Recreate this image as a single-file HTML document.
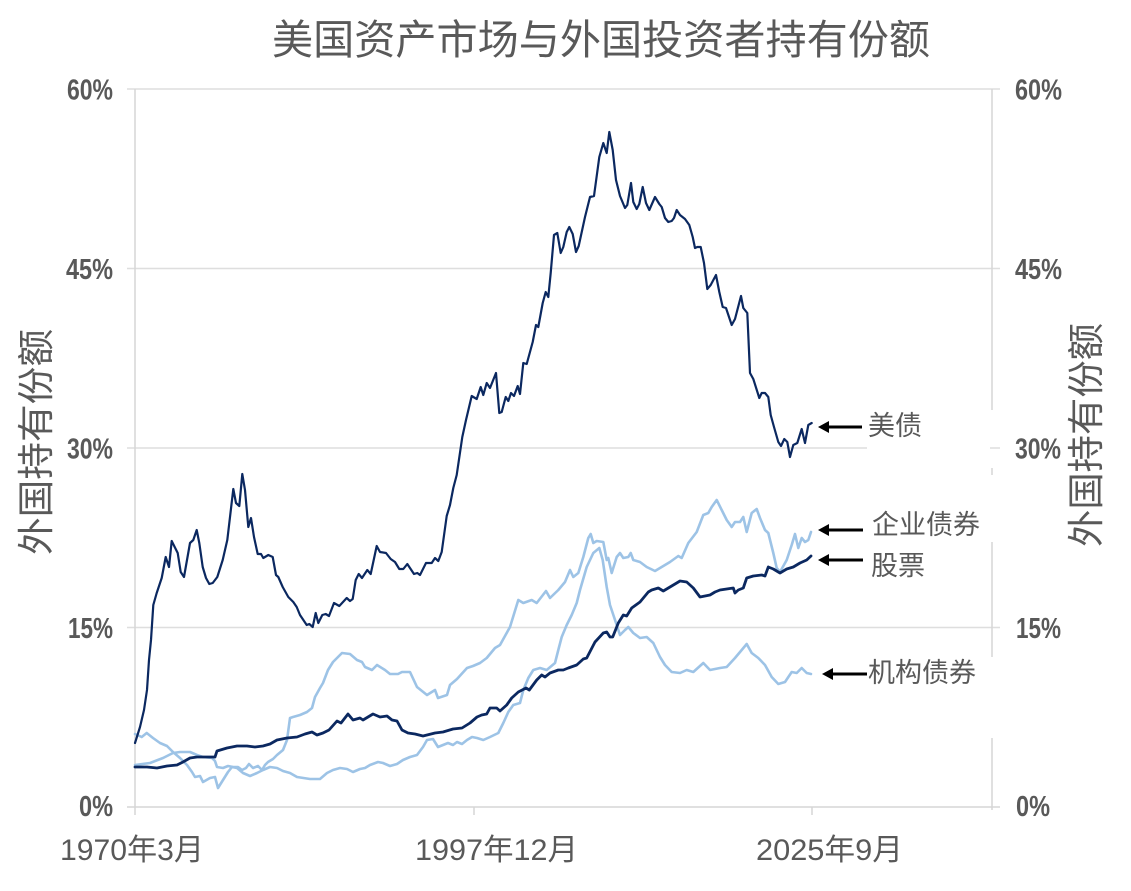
<!DOCTYPE html>
<html>
<head>
<meta charset="utf-8">
<style>
html,body{margin:0;padding:0;background:#fff;}
svg{display:block;}
text{font-family:"Liberation Sans","Noto Sans CJK SC",sans-serif;fill:#595959;}
</style>
</head>
<body>
<svg width="1131" height="891" viewBox="0 0 1131 891" xmlns="http://www.w3.org/2000/svg">
<rect x="0" y="0" width="1131" height="891" fill="#fff"/>
<!-- Title -->
<text x="601" y="54" font-size="41" text-anchor="middle" textLength="658" lengthAdjust="spacingAndGlyphs">美国资产市场与外国投资者持有份额</text>

<!-- gridlines -->
<g stroke="#dedede" stroke-width="1.5" fill="none">
<line x1="127" y1="89" x2="1000" y2="89"/>
<line x1="127" y1="268.5" x2="1000" y2="268.5"/>
<line x1="127" y1="448" x2="867" y2="448"/>
<line x1="990" y1="448" x2="1000" y2="448"/>
<line x1="127" y1="627.5" x2="1000" y2="627.5"/>
</g>
<g stroke="#d6d6d6" stroke-width="1.5" fill="none">
<line x1="127" y1="807" x2="1000" y2="807"/>
<line x1="135" y1="89" x2="135" y2="815"/>
<line x1="474" y1="807" x2="474" y2="815"/>
<line x1="812" y1="807" x2="812" y2="815"/>
<line x1="992" y1="89" x2="992" y2="410"/>
<line x1="992" y1="468" x2="992" y2="475"/>
<line x1="992" y1="542" x2="992" y2="657"/>
<line x1="992" y1="738" x2="992" y2="810"/>
</g>

<!-- left tick labels -->
<g font-size="29" font-weight="bold" text-anchor="end">
<text x="113" y="99.5" textLength="46" lengthAdjust="spacingAndGlyphs">60%</text>
<text x="113" y="279" textLength="47" lengthAdjust="spacingAndGlyphs">45%</text>
<text x="113" y="458.5" textLength="46" lengthAdjust="spacingAndGlyphs">30%</text>
<text x="113" y="638" textLength="45" lengthAdjust="spacingAndGlyphs">15%</text>
<text x="113" y="816" textLength="34" lengthAdjust="spacingAndGlyphs">0%</text>
</g>
<!-- right tick labels -->
<g font-size="29" font-weight="bold" text-anchor="start">
<text x="1015" y="99.5" textLength="47" lengthAdjust="spacingAndGlyphs">60%</text>
<text x="1015" y="279" textLength="47" lengthAdjust="spacingAndGlyphs">45%</text>
<text x="1015" y="458.5" textLength="46" lengthAdjust="spacingAndGlyphs">30%</text>
<text x="1016" y="638" textLength="45" lengthAdjust="spacingAndGlyphs">15%</text>
<text x="1016" y="816" textLength="34" lengthAdjust="spacingAndGlyphs">0%</text>
</g>

<!-- x labels -->
<g font-size="30">
<text x="60" y="860" textLength="144" lengthAdjust="spacingAndGlyphs">1970年3月</text>
<text x="415" y="860" textLength="163" lengthAdjust="spacingAndGlyphs">1997年12月</text>
<text x="756" y="860" textLength="147" lengthAdjust="spacingAndGlyphs">2025年9月</text>
</g>

<!-- axis titles -->
<text transform="translate(49,442) rotate(-90)" font-size="37" text-anchor="middle" textLength="226" lengthAdjust="spacingAndGlyphs">外国持有份额</text>
<text transform="translate(1099,435) rotate(-90)" font-size="37" text-anchor="middle" textLength="224" lengthAdjust="spacingAndGlyphs">外国持有份额</text>

<!-- light series -->
<g fill="none" stroke="#9dc3e6" stroke-width="2.6" stroke-linejoin="round" stroke-linecap="round">
<!-- corporate -->
<polyline points="135,765 150,763 163,758 173,753 180,752 190,752 197,755 203,757 212,758 215,761 217,767 223,768 228,766 233,767 238,767 242,770 246,768 249,764 253,768 258,766 262,770 265,765 268,762 273,759 277,755 283,750 287,740 290,718 293,717 300,715 307,712 312,708 315,697 320,688 323,683 328,670 333,662 342,653 350,654 357,660 362,662 365,667 372,670 377,665 385,670 390,674 398,674 402,672 410,672 417,687 427,695 435,690 438,698 447,695 450,685 457,679 467,668 473,666 480,663 486.7,658 495,648 500,645 510,627 518.3,600 523.3,603 531.7,600 536.7,603 546,591 550,598 558.3,590 565,582 570,570 573.3,577 578.3,573 583.3,557 588.3,538 590.7,534 593.3,543 596.7,541 603.3,542 606.7,560 608.3,558 611.7,573 616.7,557 620,553 623.3,558 628.3,557 630.7,553 633.3,560 640,562 646.7,567 655,571 660,568 670,562 678.3,556 681.7,558 688.3,543 696.7,532 703.3,515 708.3,513 711.7,507 716.7,500 721.7,510 726.7,520 731.7,527 735,522 740,522 743.3,517 746.7,532 751.7,513 756.7,509 760,518 765,530 768.3,533 773.3,553 776.7,568 780,572 786.7,560 791.7,545 795,534 798.3,548 801.7,538 805,542 808.3,540 811,532"/>
<!-- agency -->
<polyline points="135,734 141.7,737 146.7,733 153,738 160,743 167,746 173,752 180,758 187,765 192,772 195,777 200,776 203,782 210,778 215,777 218,788 223,780 228,772 232,767 237,768 243,773 250,776 257,773 263,770 270,767 277,768 283,771 290,773 297,777 310,779 320,779 327,773 333,770 340,768 347,769 353,772 360,769 365,768 370,765 378,762 383,763 390,766 397,764 403,760 410,757 417,755 423,747 427,740 433,739 438,747 443,745 448,743 453,745 457,742 462,744 467,740 472,737 477,738 483.3,740 490,737 498.3,733 503.3,723 508.3,712 513.3,705 520,703 523.3,690 528.3,678 533.3,670 540,668 546.7,670 555,663 558.3,650 561.7,637 566.7,625 571.7,615 576.7,603 580,590 586.7,567 593.3,553 599.3,548 602.7,560 606.7,587 610,605 616.7,625 620,635 625,630 628.3,627 633.3,633 640,638 646.7,637 653.3,643 660,657 665,665 671.7,672 680,673 686.7,670 693.3,672 703.3,663 710,670 720,668 726.7,667 735,658 741.7,650 746.7,644 751.7,653 758.3,658 765,665 771.7,677 778.3,684 785,682 791.7,672 796.7,673 801.7,668 806.7,673 811,674"/>
</g>

<!-- dark series -->
<g fill="none" stroke="#0b2860" stroke-linejoin="round" stroke-linecap="round">
<!-- stocks -->
<polyline stroke-width="2.8" points="135,767 147,767 157,768 167,766 177,765 183,762 190,758 197,757 208,757 215,757 217,751 227,748 237,746 247,746 255,747 263,746 270,744 277,740 287,738 297,737 305,734 312,732 317,735 323,733 329,730 337,721 341,723 348,714 353,720 360,718 363,720 373,714 380,717 387,716 392,720 397,721 402,730 408,733 415,734 423,736 435,733 443,732 453,729 462,728 470,723 477,717 481.7,715 486.7,714 490,708 496.7,708 500,711 506.7,705 511.7,698 518.3,692 526,688 529.3,690 536.7,680 541.7,675 545,677 550,673 558.3,670 563.3,670 568.3,668 576.7,665 583.3,659 586.7,658 595,642 603.3,633 606.7,632 610,637 612.7,637 618.3,623 623.3,615 626.7,616 631.7,608 640,602 648.3,592 651.7,590 658.3,588 663.3,591 670,587 676.7,583 680,581 686.7,582 693.3,588 700,597 705,596 710,595 715,592 720,590 726.7,589 733.3,588 735,593 738.3,590 743.3,588 746.7,578 753.3,576 761.7,575 765,576 768.3,567 773.3,569 780,573 786.7,569 793.3,567 800,563 806.7,560 811,556"/>
<!-- treasuries -->
<polyline stroke-width="2.2" points="135,743 140,727 144,710 147,690 149,660 151,640 153.3,605 156.7,593 161.7,578 165.7,557 169,567 171.7,541 177.7,553 180.7,572 184,577 190,543 193.3,540 196.7,530 199.3,543 202.7,567 206,578 209.3,584 212.7,583 217.3,577 222.7,560 227.3,540 233.3,489 236,503 239.3,506 242.3,474 245,490 248.3,527 251,518 254,537 257.7,554 261,554 263.3,558 268.3,555 272.7,557 276,575 278.3,577 282.7,587 288.3,597 293.3,602 296.7,607 300,615 306.7,625 309.3,624 312.7,627 315.7,613 318.3,623 322.3,615 325.7,614 329,616 334,603 339.3,606 346.7,598 350,601 352.7,599 355.7,580 358.7,574 362,578 367.3,570 370.7,574 376.7,546 380,552 386,553 390.7,559 395,562 399.3,569 403.3,569 407.3,564 414,574 417.3,573 420,575 426,563 431.7,563 435,558 438.3,561 441.7,552 446.7,516 450,505 453.3,488 456.7,475 462.3,437 466,420 471.7,396 476.7,399 480.7,387 483.3,395 486.7,383 490,388 496,373 499.3,413 501.7,412 505.7,397 508.3,401 511,393 514,396 517.7,386 520,394 523.3,363 526.7,364 532.7,342 536,325 538.3,327 542.7,303 545.7,292 548.3,297 550.7,273 554,235 557.3,233 560.7,253 563.3,247 566.7,232 569.3,227 572.7,234 576,252 578.7,246 585,217 590,197 594,196 599.3,157 603.3,143 606.7,153 609.3,132 612.7,150 616,180 620,196 625,208 627.3,205 631,183 633.3,202 636.7,209 639.3,204 642.7,187 646,203 649.3,210 655,197 659.3,204 661.7,207 665,218 668.3,222 671.7,221 674,218 676.7,210 680,215 685,219 689.3,225 692.7,237 695,248 697.3,247 700.7,247 704,263 707.3,289 710.7,285 716,275 719.3,292 722.7,307 726,308 731.7,325 735,319 741,296 743.3,308 747.3,313 750,373 753.3,379 759.3,398 761.7,393 765,393 768.3,397 770.7,415 774,427 778.3,442 781,446 784.3,439 787.3,442 790,457 793.3,445 797.3,443 801.7,429 805,443 808.3,425 811.7,423"/>
</g>

<!-- arrows -->
<g stroke="#000" stroke-width="3" fill="none">
<line x1="826" y1="427" x2="862" y2="427"/>
<line x1="826" y1="530" x2="863" y2="530"/>
<line x1="826" y1="560" x2="863" y2="560"/>
<line x1="830" y1="674" x2="867" y2="674"/>
</g>
<g fill="#000">
<polygon points="818,427 829,421 829,433"/>
<polygon points="818,530 829,524 829,536"/>
<polygon points="818,560 829,554 829,566"/>
<polygon points="822,674 833,668 833,680"/>
</g>

<!-- annotation labels -->
<g font-size="27">
<text x="868" y="435">美债</text>
<text x="872" y="534">企业债券</text>
<text x="871" y="575">股票</text>
<text x="868" y="682">机构债券</text>
</g>
</svg>
</body>
</html>
